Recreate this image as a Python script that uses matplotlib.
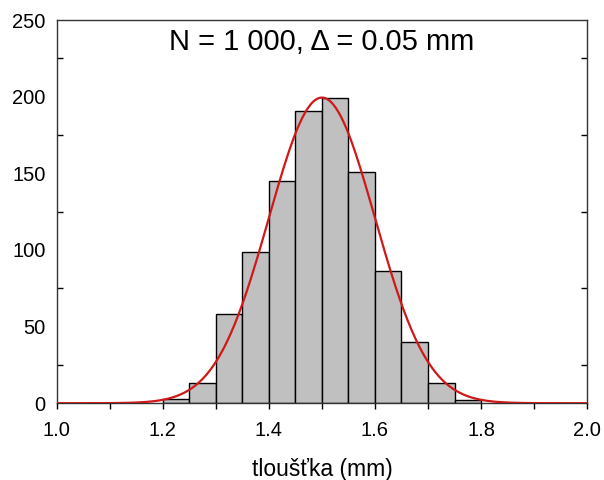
import numpy as np
import matplotlib.pyplot as plt
from matplotlib.ticker import MultipleLocator

plt.rcParams['font.family'] = ['Liberation Sans', 'DejaVu Sans']

# histogram: bin edges (mm) and counts
bin_left = [1.20, 1.25, 1.30, 1.35, 1.40, 1.45, 1.50, 1.55, 1.60, 1.65, 1.70, 1.75]
counts = [3, 13, 58, 99, 145, 191, 199, 151, 86, 40, 13, 2]
bin_width = 0.05

# fitted normal curve parameters
n_total = 1000
mu = 1.5
sigma = 0.1

fig = plt.figure(figsize=(6.04, 4.8), dpi=100)
ax = fig.add_axes([0.094, 0.160, 0.878, 0.798])

ax.bar(bin_left, counts, width=bin_width, align='edge',
       color='#c0c0c0', edgecolor='black', linewidth=1.0, zorder=2)

x = np.linspace(1.0, 2.0, 400)
y = n_total * bin_width / (sigma * np.sqrt(2 * np.pi)) * np.exp(-0.5 * ((x - mu) / sigma) ** 2)
ax.plot(x, y, color='#d01818', linewidth=1.6, zorder=3)

ax.set_xlim(1.0, 2.0)
ax.set_ylim(0, 250)
ax.xaxis.set_major_locator(MultipleLocator(0.2))
ax.xaxis.set_minor_locator(MultipleLocator(0.1))
ax.yaxis.set_major_locator(MultipleLocator(50))
ax.yaxis.set_minor_locator(MultipleLocator(25))
ax.xaxis.set_major_formatter(plt.FormatStrFormatter('%.1f'))

ax.tick_params(axis='x', which='both', direction='out', length=4, width=1, labelsize=14.5, pad=9)
ax.tick_params(axis='y', which='major', length=0, labelsize=14.5, pad=8)
ax.tick_params(axis='y', which='minor', direction='in', length=4, width=1,
               left=True, right=True)

for s in ax.spines.values():
    s.set_linewidth(1.0)
    s.set_color('#333333')

ax.set_xlabel('tloušťka (mm)', fontsize=16.5, labelpad=13)
ax.text(0.5, 0.943, 'N = 1 000, \u0394 = 0.05 mm', transform=ax.transAxes,
        ha='center', va='center', fontsize=21)

fig.savefig('out.png', dpi=100)
